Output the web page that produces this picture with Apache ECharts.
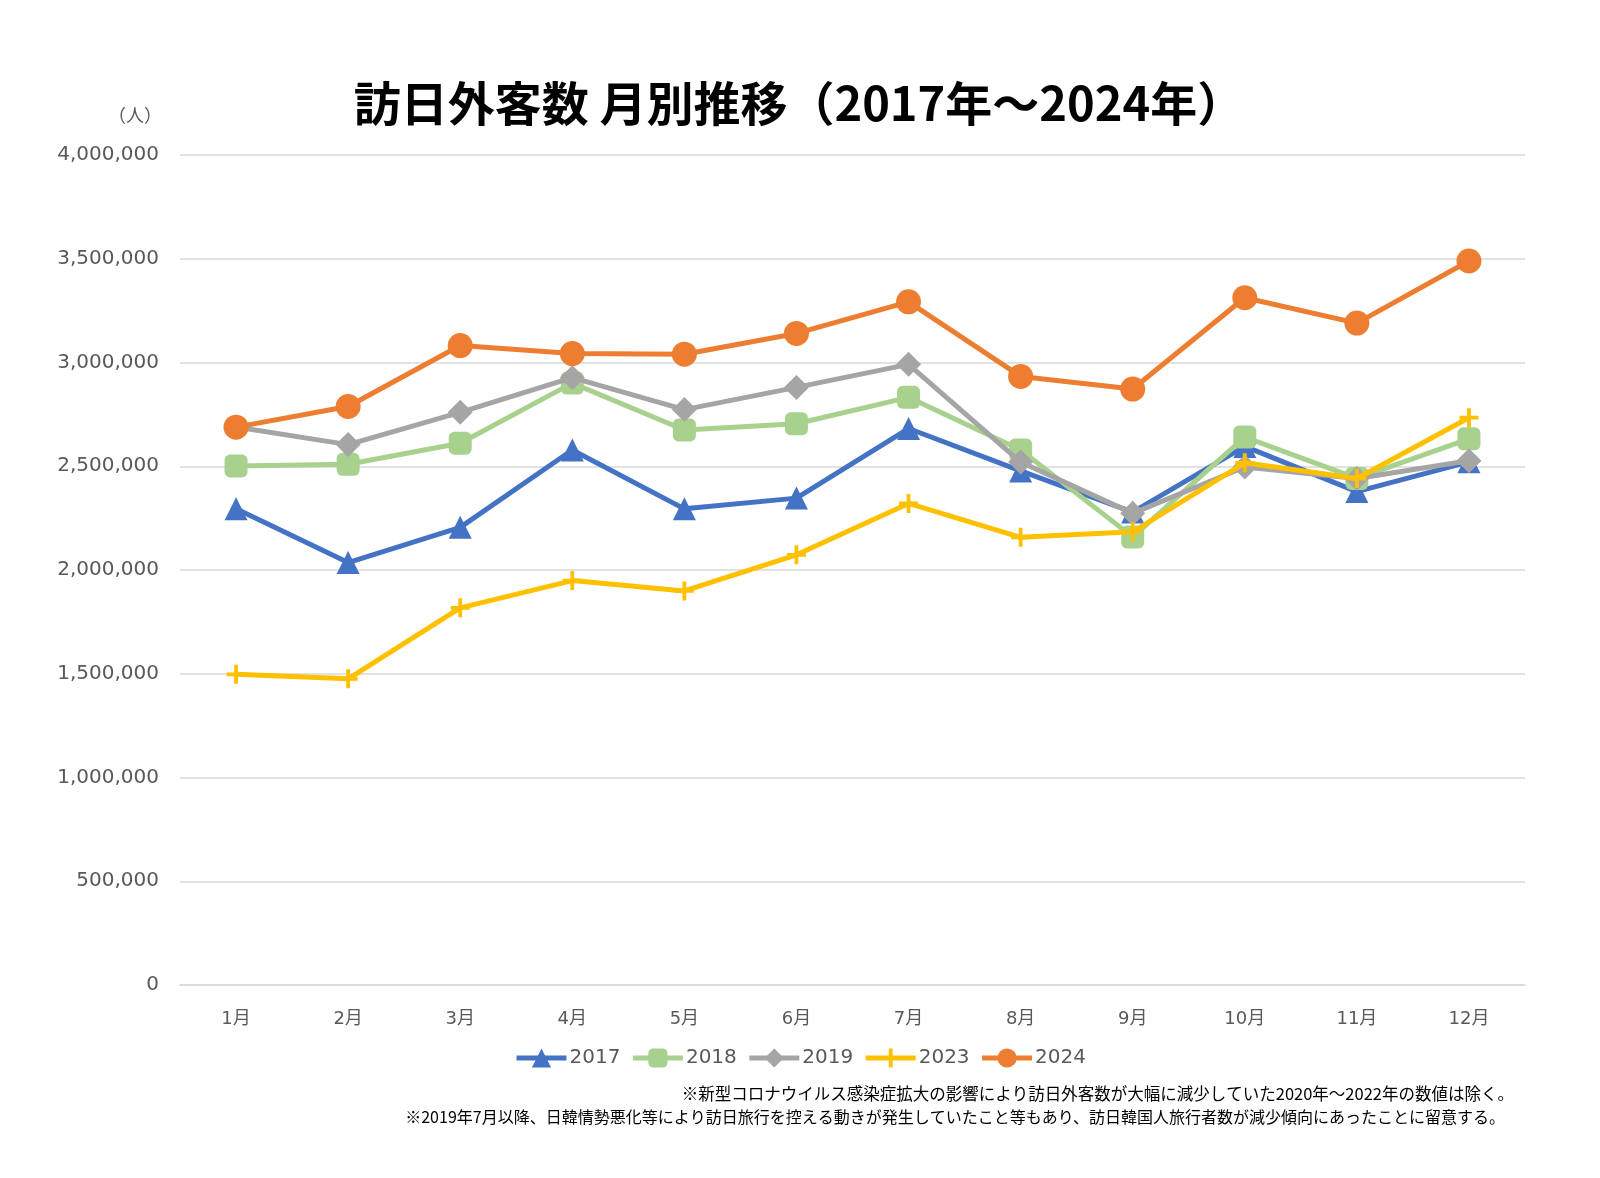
<!DOCTYPE html>
<html>
<head>
<meta charset="utf-8">
<script src="https://cdn.jsdelivr.net/npm/echarts@6/dist/echarts.min.js"></script>
<style>html,body{margin:0;padding:0;background:#fff}#c{width:1600px;height:1178px}</style>
</head>
<body>
<div id="c"></div>
<script>
const months = ['1月','2月','3月','4月','5月','6月','7月','8月','9月','10月','11月','12月'];
const s2017 = [2295700,2035800,2205700,2578000,2294700,2346400,2681900,2477500,2279000,2595500,2377900,2521100];
const s2018 = [2501400,2509300,2611000,2900700,2675000,2704600,2832000,2578000,2159600,2640600,2441300,2632000];
const s2019 = [2689300,2604300,2760100,2926700,2773100,2880000,2991200,2520100,2272900,2496600,2441200,2526400];
const s2023 = [1497300,1475500,1817500,1949100,1899200,2073300,2320600,2157500,2184300,2516500,2440900,2734000];
const s2024 = [2688500,2788000,3081600,3042900,3040000,3140000,3292500,2933000,2872000,3312000,3190000,3489000];
const seriesNames = ['2017','2018','2019','2023','2024'];
const titleText = '訪日外客数 月別推移（2017年～2024年）';
const unitText = '（人）';
const note1 = '※新型コロナウイルス感染症拡大の影響により訪日外客数が大幅に減少していた2020年～2022年の数値は除く。';
const note2 = '※2019年7月以降、日韓情勢悪化等により訪日旅行を控える動きが発生していたこと等もあり、訪日韓国人旅行者数が減少傾向にあったことに留意する。';

const CJK = '"Noto Sans CJK JP","Noto Sans",sans-serif';
const NUM = '"DejaVu Sans","Noto Sans CJK JP",sans-serif';
const plusPath = 'path://M4,0h2v4h4v2h-4v4h-2v-4h-4v-2h4z';
const colors = ['#4472c4','#a9d18e','#a5a5a5','#ffc000','#ed7d31'];
const symbols = ['triangle','roundRect','diamond',plusPath,'circle'];
const sizes = [23,23,25,19,25];
const data = [s2017,s2018,s2019,s2023,s2024];

const chart = echarts.init(document.getElementById('c'));
chart.setOption({
  backgroundColor:'#fff',
  animation:false,
  title:{text:titleText,left:794,top:75,textAlign:'center',
    textStyle:{fontFamily:CJK,fontSize:47,fontWeight:'bold',color:'#000'}},
  graphic:[
    {type:'text',left:108,top:106,style:{text:unitText,font:'18px '+CJK,fill:'#595959'}},
    {type:'text',right:86,top:1085,style:{text:note1,font:'16.5px '+CJK,fill:'#000',textAlign:'right'}},
    {type:'text',right:95,top:1109,style:{text:note2,font:'16px '+CJK,fill:'#000',textAlign:'right'}}
  ],
  legend:{data:seriesNames,left:'center',top:1043,itemWidth:50,itemHeight:24,itemGap:10,
    lineStyle:{width:5},
    textStyle:{fontFamily:NUM,fontSize:20,color:'#595959',padding:[0,0,0,-2]}},
  grid:{left:180,right:75,top:155,bottom:193,containLabel:false},
  xAxis:{type:'category',data:months,boundaryGap:true,
    axisLine:{lineStyle:{color:'#d9d9d9',width:1.5}},axisTick:{show:false},
    axisLabel:{fontFamily:NUM,fontSize:18,color:'#595959',margin:25}},
  yAxis:{type:'value',min:0,max:4000000,interval:500000,
    axisLine:{show:false},axisTick:{show:false},
    splitLine:{lineStyle:{color:'#d9d9d9',width:1.5}},
    axisLabel:{fontFamily:NUM,fontSize:20,color:'#595959',margin:21,
      formatter:v=>v.toLocaleString('en-US')}},
  series:seriesNames.map((n,i)=>({
    name:n,type:'line',data:data[i],symbol:symbols[i],symbolSize:sizes[i],
    lineStyle:{color:colors[i],width:5},itemStyle:{color:colors[i]},z:2+i
  }))
});
</script>
</body>
</html>
